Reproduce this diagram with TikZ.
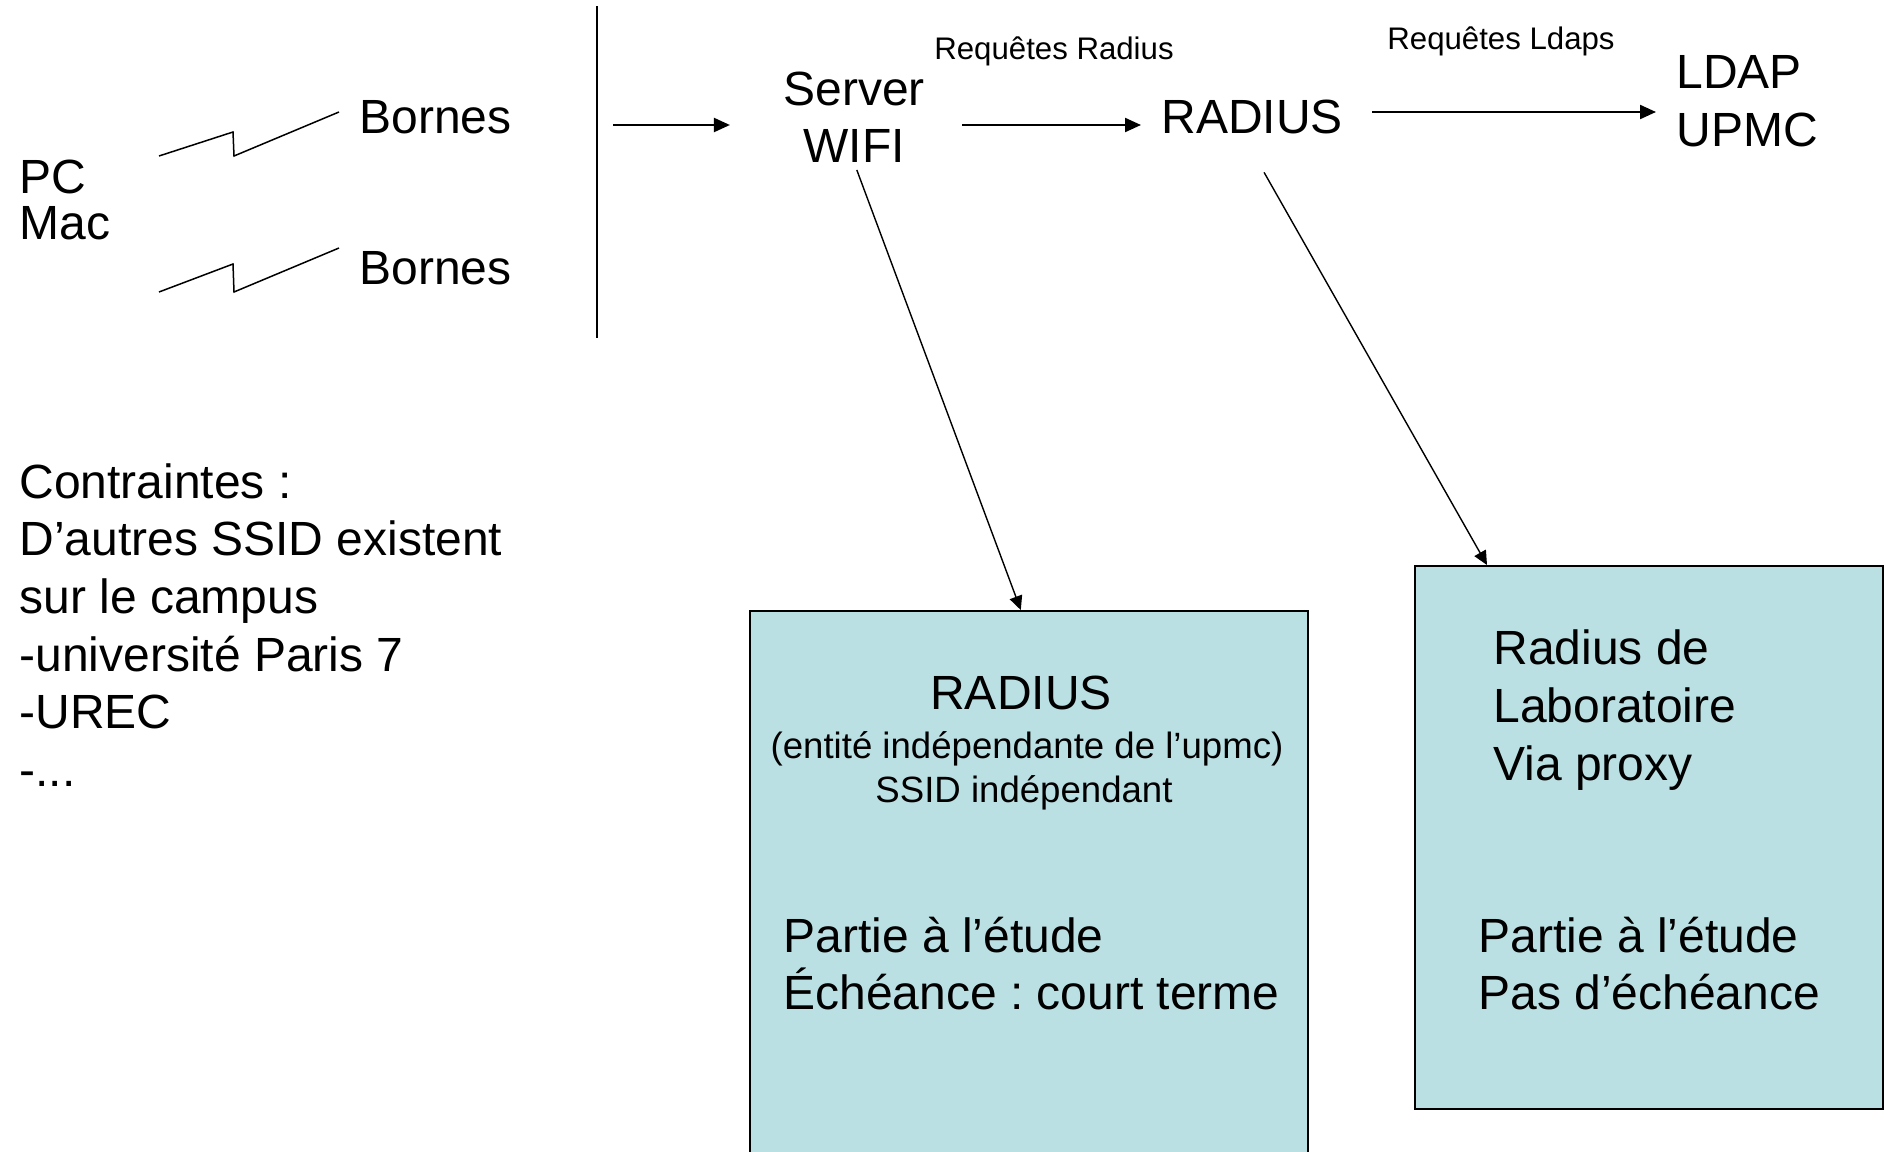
\documentclass[tikz,border=0pt]{standalone}
\usepackage{fontspec}
\setmainfont{Liberation Sans}
\usetikzlibrary{arrows.meta,positioning}
\definecolor{boxblue}{RGB}{187,224,227}
\frenchspacing
\tikzset{
  big/.style={font=\fontsize{24}{28.8}\selectfont, inner sep=0pt, align=left},
  mid/.style={font=\fontsize{18.3}{22}\selectfont, inner sep=0pt},
  small/.style={font=\fontsize{15.6}{18}\selectfont, inner sep=0pt},
  arr/.style={-{Triangle[length=8pt,width=7pt]}, line width=1.1pt},
  link/.style={-{Triangle[length=7pt,width=6.5pt]}, line width=0.7pt},
  studybox/.style={draw, fill=boxblue, line width=0.8pt, inner sep=0pt},
}
\begin{document}
\begin{tikzpicture}[x=0.5pt,y=-0.5pt]
\useasboundingbox (0,0) rectangle (1884,1151);
\clip (0,0) rectangle (1884,1151);

\node[big, anchor=west, font=\fontsize{24}{22.8}\selectfont] (pcmac) at (19,200) {PC\\Mac};
\node[big, anchor=west] (bornesA) at (359,117) {Bornes};
\node[big, anchor=west] (bornesB) at (359,268) {Bornes};
\draw[line width=0.75pt] (159,156) -- (233,132) -- (234,156) -- (339,112);
\draw[line width=0.75pt] (159,292) -- (233,264) -- (234,292) -- (339,248);
\draw[line width=1pt] (597,6) -- (597,338);

\node[big, align=center, font=\fontsize{24}{28.3}\selectfont] (srv) at (854,117) {Server\\WIFI};
\node[big, anchor=west] (rad) at (1161,117) {RADIUS};
\node[big, anchor=west] (ldap) at (1676,101) {LDAP\\UPMC};
\node[small] (reqrad) at (1054,51) {Requêtes Radius};
\node[small] (reqldap) at (1501,41) {Requêtes Ldaps};

\coordinate (gate) at (613,125);
\draw[arr, shorten >=26.5pt] (gate) -- (gate -| srv.west);
\draw[arr, shorten <=18.5pt, shorten >=10pt] (gate -| srv.east) -- (gate -| rad.west);
\draw[arr, shorten <=14.5pt, shorten >=10pt] ([yshift=2.5pt]rad.east) -- ([yshift=2.5pt]rad.east -| ldap.west);

\node[studybox, anchor=north west, minimum width=279pt, minimum height=280pt] (box1) at (749,610) {};
\node[studybox, anchor=north west, minimum width=234pt, minimum height=271.5pt] (box2) at (1414,565) {};

\draw[link, shorten <=4pt] (srv.south) -- ([xshift=-4pt]box1.north);
\draw[link] ([xshift=6pt,yshift=-19pt]rad.south) -- ([xshift=36.5pt]box2.north west);

\node[big] (radius) at (1021,693) {RADIUS};
\node[mid] (entite) at (1027,749) {(entité indépendante de l’upmc)};
\node[mid] (ssid) at (1024,793) {SSID indépendant};
\node[big, anchor=west, font=\fontsize{24}{28.5}\selectfont] (etude1) at (783,964) {Partie à l’étude\\Échéance : court terme};

\node[big, anchor=west] (labo) at (1493,710) {Radius de\\Laboratoire\\Via proxy};
\node[big, anchor=west, font=\fontsize{24}{28.5}\selectfont] (etude2) at (1478,964) {Partie à l’étude\\Pas d’échéance};

\node[big, anchor=west] (contr) at (19,625) {Contraintes :\\D’autres SSID existent\\sur le campus\\-université Paris 7\\-UREC\\-...};
\end{tikzpicture}
\end{document}
